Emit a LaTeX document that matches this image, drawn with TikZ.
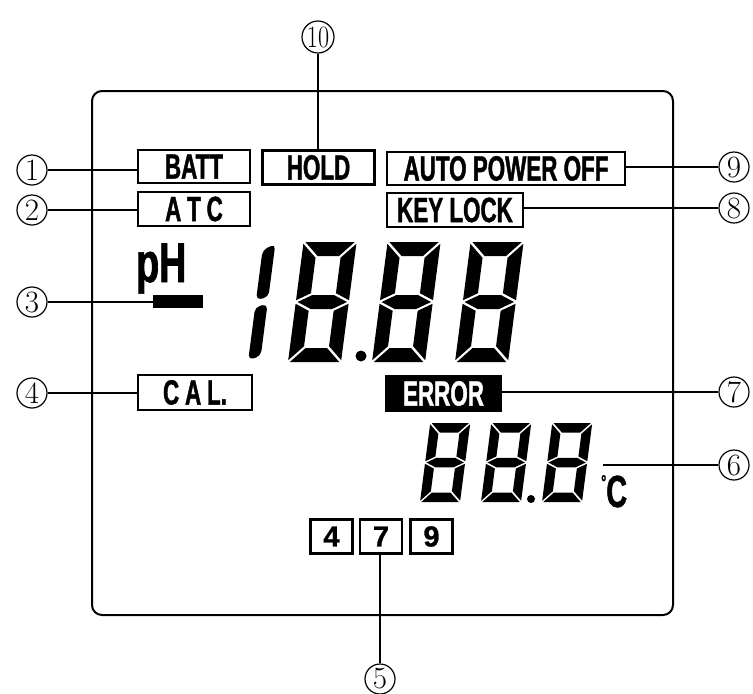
\documentclass[tikz,border=0pt]{standalone}
\usepackage{fontspec}
\newfontfamily\lcdfont[FakeStretch=0.64, FakeBold=1.2]{Liberation Sans}
\newfontfamily\numfont[FakeBold=1]{Liberation Sans}
\tikzset{
  lbl/.style={draw, line width=2.4pt, inner sep=0pt, font=\lcdfont\bfseries\fontsize{35}{35}\selectfont},
  nbox/.style={draw, line width=2.2pt, inner sep=0pt, minimum width=42pt, minimum height=34pt, font=\numfont\bfseries\fontsize{29}{29}\selectfont},
  circ/.style={circle, draw, line width=1.2pt, inner sep=0pt, minimum size=30pt, font=\fontsize{31}{31}\selectfont},
  conn/.style={line width=1.8pt},
  frame/.style={line width=2pt, rounded corners=10pt}
}
% seven-segment digit: #1 x0, #2 y0 (bottom, image coords), #3 W, #4 H, #5 T, #6 gap
\newcommand\lcddigit[6]{%
  \begin{scope}[shift={(#1,#2)}, x={(1pt,0pt)}, y={(0.13pt,1pt)}]
    \def\W{#3}\def\H{#4}\def\T{#5}\def\G{#6}
    \pgfmathsetmacro\M{#4/2}
    \fill (\G,\H) -- (\W-\G,\H) -- (\W-\T-\G,\H-\T) -- (\T+\G,\H-\T) -- cycle;
    \fill (\G,\M) -- (\T+\G,\M+\T/2) -- (\W-\T-\G,\M+\T/2) -- (\W-\G,\M) -- (\W-\T-\G,\M-\T/2) -- (\T+\G,\M-\T/2) -- cycle;
    \fill (\G,0) -- (\W-\G,0) -- (\W-\T-\G,\T) -- (\T+\G,\T) -- cycle;
    \fill (0,\H-\G) -- (\T,\H-\T-\G) -- (\T,\M+\T/2+\G) -- (0,\M+\G) -- cycle;
    \fill (\W,\H-\G) -- (\W-\T,\H-\T-\G) -- (\W-\T,\M+\T/2+\G) -- (\W,\M+\G) -- cycle;
    \fill (0,\G) -- (\T,\T+\G) -- (\T,\M-\T/2-\G) -- (0,\M-\G) -- cycle;
    \fill (\W,\G) -- (\W-\T,\T+\G) -- (\W-\T,\M-\T/2-\G) -- (\W,\M-\G) -- cycle;
  \end{scope}}
% leading "1": two vertical bars
\newcommand\lcdone[5]{%
  \begin{scope}[shift={(#1,#2)}, x={(1pt,0pt)}, y={(0.13pt,1pt)}]
    \def\H{#3}\def\T{#4}\def\G{#5}
    \pgfmathsetmacro\M{#3/2}
    \fill[rounded corners=5pt] (0,\M+\G) -- (\T,\M+\G+3) -- (\T,\H-\G) -- (0,\H-\G-6) -- cycle;
    \fill[rounded corners=5pt] (0,\G) -- (\T,\G+4) -- (\T,\M-\G) -- (0,\M-\G-3) -- cycle;
  \end{scope}}
\begin{document}
\begin{tikzpicture}[x=1pt,y=-1pt]
\useasboundingbox (0,0) rectangle (753,694);
\fill[white] (0,0) rectangle (753,694);
% LCD frame
\draw[frame] (92,91) rectangle (673,615);

% segment labels
\node[lbl, minimum width=112pt, minimum height=33pt] (batt) at (194,166.5) {BATT};
\node[lbl, minimum width=112pt, minimum height=34pt] (hold) at (318.5,167.5) {HOLD};
\node[lbl, minimum width=112pt, minimum height=34pt] (atc) at (194,209) {A\,T\,C};
\node[lbl, minimum width=238pt, minimum height=33pt] (apo) at (506,168.5) {AUTO POWER OFF};
\node[lbl, minimum width=136pt, minimum height=34pt] (key) at (455,210) {KEY LOCK};
\node[lbl, minimum width=114pt, minimum height=35pt] (cal) at (195,392.5) {C\,A\,L.};
\node[fill=black, text=white, inner sep=0pt, minimum width=117pt, minimum height=37pt,
      font=\lcdfont\bfseries\fontsize{35}{35}\selectfont] (err) at (443.5,393.5) {ERROR};

% pH and bar
\node[inner sep=0pt, anchor=base west, font=\lcdfont\bfseries\fontsize{56}{56}\selectfont] (ph) at (136,282) {\scalebox{1.05}[1]{pH}};
\node[fill=black, inner sep=0pt, minimum width=50pt, minimum height=13pt] (bar) at (178,301.5) {};

% big digits
\lcdone{248}{362}{120}{12}{2}
\lcddigit{288}{362}{53}{120}{14}{1.8}
\lcddigit{372}{362}{53}{120}{14}{1.8}
\lcddigit{455}{362}{53}{120}{14}{1.8}
\fill (361,356) circle (5.5pt);

% small digits
\lcddigit{420}{502}{40}{79}{9.5}{1.3}
\lcddigit{481}{502}{40}{79}{9.5}{1.3}
\lcddigit{542}{502}{40}{79}{9.5}{1.3}
\fill (531,499) circle (4pt);
\node[inner sep=0pt, anchor=base west, font=\lcdfont\bfseries\fontsize{45}{45}\selectfont] (degc) at (601,507)
  {{\fontsize{20}{20}\selectfont\raisebox{18pt}{°}}C};
\coordinate (d6) at (603,465);

% buffer boxes
\node[nbox] (b4) at (331.5,536.5) {4};
\node[nbox] (b7) at (381,536.5) {7};
\node[nbox] (b9) at (431.5,536.5) {9};

% callout circles
\node[circ] (c1) at (32,170) {1};
\node[circ] (c2) at (32,210) {2};
\node[circ] (c3) at (32,302) {3};
\node[circ] (c4) at (32,393) {4};
\node[circ] (c5) at (380,679) {5};
\node[circ] (c6) at (734,465) {6};
\node[circ] (c7) at (734,392) {7};
\node[circ] (c8) at (734,208) {8};
\node[circ] (c9) at (734,167) {9};
\node[circ, minimum size=32pt] (c10) at (318,37) {\scalebox{0.78}[1]{10}};

% connectors
\draw[conn] (c1.east) -- (c1.east -| batt.west);
\draw[conn] (c2.east) -- (c2.east -| atc.west);
\draw[conn] (c3.east) -- (c3.east -| bar.west);
\draw[conn] (c4.east) -- (c4.east -| cal.west);
\draw[conn] (c5.north) -- (c5.north |- b7.south);
\draw[conn] (c6.west) -- (d6);
\draw[conn] (c7.west) -- (c7.west -| err.east);
\draw[conn] (c8.west) -- (c8.west -| key.east);
\draw[conn] (c9.west) -- (c9.west -| apo.east);
\draw[conn] (c10.south) -- (c10.south |- hold.north);
\end{tikzpicture}
\end{document}
